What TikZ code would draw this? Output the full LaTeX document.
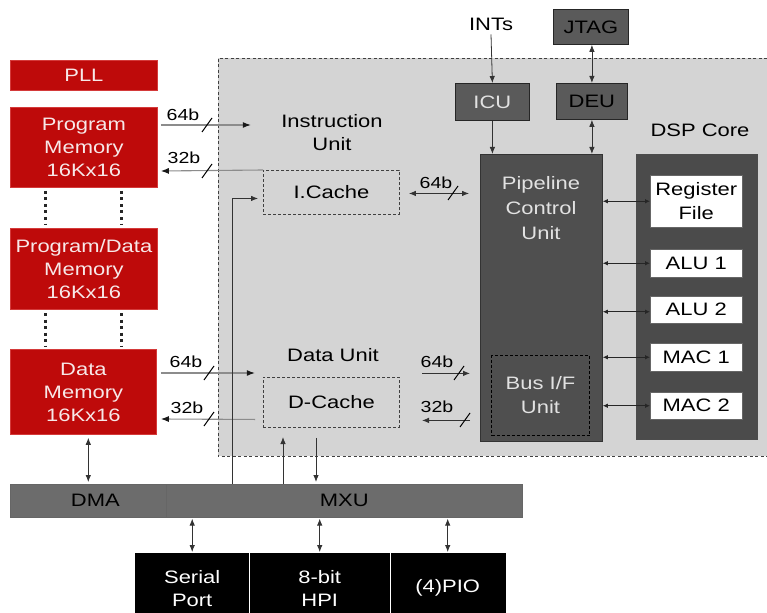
\documentclass[tikz,border=0pt]{standalone}
\usepackage{fontspec}
\setmainfont{Liberation Sans}[FakeStretch=1.22]
\usetikzlibrary{arrows.meta,calc}
\definecolor{memred}{HTML}{BE0A0A}
\definecolor{memredb}{HTML}{D43A3A}
\definecolor{memtxt}{HTML}{F7E8E8}
\definecolor{regiongray}{HTML}{D4D4D4}
\definecolor{pcugray}{HTML}{4F4F4F}
\definecolor{coregray}{HTML}{4B4B4B}
\definecolor{smallgray}{HTML}{5A5A5A}
\definecolor{bargray}{HTML}{6C6C6C}
\definecolor{lighttxt}{HTML}{E2E2E2}
\begin{document}
\begin{tikzpicture}[x=1pt,y=-1pt,
  txt/.style={font=\fontsize{18}{23}\selectfont, align=center, inner sep=0pt},
  small/.style={font=\fontsize{16}{18}\selectfont, inner sep=0pt},
  nw/.style={anchor=north west, inner sep=0pt, align=center},
  redbox/.style={nw, fill=memred, draw=memredb, line width=0.8pt, text=memtxt, font=\fontsize{18}{23}\selectfont},
  sbox/.style={nw, fill=smallgray, draw=black!85, line width=0.8pt, font=\fontsize{18}{23}\selectfont},
  wbox/.style={nw, fill=white, draw=black!60, line width=0.5pt, font=\fontsize{18}{24}\selectfont},
  dbox/.style={nw, draw=black!75, dash pattern=on 3pt off 2pt, line width=0.9pt, font=\fontsize{18}{23}\selectfont},
  blk/.style={nw, fill=black, draw=black, text=white, font=\fontsize{18}{23}\selectfont},
  barbox/.style={nw, fill=bargray, draw=black!60, line width=0.6pt, font=\fontsize{18}{23}\selectfont},
  arr/.style={draw=black!80, line width=0.8pt, -{Latex[length=7pt,width=5.5pt]}},
  dbl/.style={draw=black!80, line width=0.8pt, {Latex[length=7pt,width=5.5pt]}-{Latex[length=7pt,width=5.5pt]}},
  unitc/.style={draw=black!85, line width=0.8pt, {Latex[length=5pt,width=4.5pt]}-{Latex[length=5pt,width=4.5pt]}},
  garr/.style={draw=black!45, line width=1.1pt, -{Latex[length=8pt,width=6pt,color=black!90]}},
  slash/.style={draw=black, line width=1pt},
  memdots/.style={draw=black!85, line width=3pt, dash pattern=on 3pt off 3.5pt},
  regdash/.style={draw=black!75, line width=0.9pt, dash pattern=on 3pt off 2.5pt}
]
\useasboundingbox (0,0) rectangle (767,612);

% core region
\node[nw, fill=regiongray, minimum width=549pt, minimum height=398pt] (core) at (218,58) {};
\draw[regdash] (core.north east) -- (core.north west) -- (core.south west) -- (core.south east);

% memories
\node[redbox, minimum width=147pt, minimum height=30pt] (pll) at (10,60) {PLL};
\node[redbox, minimum width=147pt, minimum height=80pt] (pm) at (10,107) {Program\\Memory\\16Kx16};
\node[redbox, minimum width=147pt, minimum height=81pt] (pdm) at (10,228) {Program/Data\\Memory\\16Kx16};
\node[redbox, minimum width=146pt, minimum height=85pt] (dm) at (10,349) {Data\\Memory\\16Kx16};
\draw[memdots] (45,191) -- (45,224);
\draw[memdots] (121,191) -- (121,224);
\draw[memdots] (45,313) -- (45,346);
\draw[memdots] (121,313) -- (121,346);

% units in region
\node[txt] (iu) at (332,133) {Instruction\\Unit};
\node[txt] (du) at (333,355) {Data Unit};
\node[dbox, minimum width=136pt, minimum height=44pt] (icache) at (263,170) {I.Cache};
\node[dbox, minimum width=136pt, minimum height=50pt] (dcache) at (263,377) {D-Cache};

\node[nw, fill=pcugray, draw=black!80, line width=0.8pt, minimum width=122pt, minimum height=287pt] (pcu) at (480,154) {};
\node[txt, text=lighttxt, font=\fontsize{18}{25}\selectfont] (pcutxt) at (541,208) {Pipeline\\Control\\Unit};
\node[dbox, draw=black, line width=1pt, text=lighttxt, minimum width=98pt, minimum height=80pt, font=\fontsize{18}{24}\selectfont] (busif) at (491,355) {Bus I/F\\Unit};

\node[txt] (dsptitle) at (700,130) {DSP Core};
\node[nw, fill=coregray, draw=black!70, line width=0.6pt, minimum width=121pt, minimum height=285pt] (dsp) at (636,154) {};
\node[wbox, minimum width=92pt, minimum height=52pt] (rf) at (650,175) {Register\\File};
\node[wbox, minimum width=92pt, minimum height=28pt] (alu1) at (650,249) {ALU 1};
\node[wbox, minimum width=92pt, minimum height=27pt] (alu2) at (650,296) {ALU 2};
\node[wbox, minimum width=92pt, minimum height=28pt] (mac1) at (650,343) {MAC 1};
\node[wbox, minimum width=92pt, minimum height=27pt] (mac2) at (650,392) {MAC 2};

\node[sbox, text=lighttxt, minimum width=74pt, minimum height=37pt] (icu) at (455,83) {ICU};
\node[sbox, minimum width=71pt, minimum height=36pt] (deu) at (556,83) {DEU};
\node[sbox, minimum width=75pt, minimum height=35pt] (jtag) at (553,9) {JTAG};
\node[txt] (ints) at (491,24) {INTs};

% bus bar
\node[barbox, minimum width=156pt, minimum height=33pt] (dma) at (10,484) {\hspace*{14pt}DMA};
\node[barbox, minimum width=356pt, minimum height=33pt] (mxu) at (166,484) {MXU};

% peripherals
\node[blk, minimum width=114pt, minimum height=70pt] (serial) at (135,553) {Serial\\Port};
\node[blk, minimum width=141pt, minimum height=70pt] (hpi) at (249,553) {8-bit\\HPI};
\node[blk, minimum width=115pt, minimum height=70pt] (pio) at (390,553) {(4)PIO};
\draw[white, line width=0.8pt] (hpi.north west) -- (hpi.south west);
\draw[white, line width=0.8pt] (pio.north west) -- (pio.south west);

% left connectors
\draw[garr] ($(pm.north east)+(3,18)$) -- ++(90,0);
\node[small] at (183,115) {64b};
\draw[slash] (207,125) ++(-5,7) -- ++(10,-14);
\draw[garr] (icache.north west) -- ($(pm.north east)+(3,64)$);
\node[small] at (184,158) {32b};
\draw[slash] (207,171) ++(-5,7) -- ++(10,-14);

\draw[garr] ($(dm.north east)+(4,24)$) -- ++(94,0);
\node[small] at (186,362) {64b};
\draw[slash] (209,373) ++(-5,7) -- ++(10,-14);
\draw[garr] ($(dcache.west)+(-8,17)$) -- ($(dm.north east)+(4,70)$);
\node[small] at (187,408) {32b};
\draw[slash] (209,419) ++(-5,7) -- ++(10,-14);

% right connectors
\draw[dbl] ($(icache.east)+(9,1)$) -- ($(icache.east -| pcu.west)+(-11,1)$);
\node[small] at (436,183) {64b};
\draw[slash] (453,193) ++(-5,7) -- ++(10,-14);
\draw[arr] ($(pcu.west)+(-58,75.5)$) -- ++(48,0);
\node[small] at (437,362) {64b};
\draw[slash] (459,373) ++(-5,7) -- ++(10,-14);
\draw[arr] ($(pcu.west)+(-10,122.5)$) -- ++(-48,0);
\node[small] at (437,407) {32b};
\draw[slash] (465,420) ++(-5,7) -- ++(10,-14);

% top connectors
\draw[arr] ($(ints.south)+(0,4)$) -- (icu.north);
\draw[arr] (icu.south) -- (icu.south |- pcu.north);
\draw[dbl] (deu.north |- jtag.south) -- (deu.north);
\draw[dbl] (deu.south) -- (deu.south |- pcu.north);

% pcu to units
\draw[unitc] (rf.west -| pcu.east) -- (rf.west);
\draw[unitc] (alu1.west -| pcu.east) -- (alu1.west);
\draw[unitc] ($(alu2.west -| pcu.east)+(0,2)$) -- ($(alu2.west)+(0,2)$);
\draw[unitc] (mac1.west -| pcu.east) -- (mac1.west);
\draw[unitc] (mac2.west -| pcu.east) -- (mac2.west);

% bus connectors
\draw[arr] ($(mxu.north west)+(66,0)$) |- ($(icache.west)+(-5,6)$);
\draw[arr] ($(mxu.north west)+(117,0)$) -- ++(0,-47);
\draw[arr] ($(dcache.south west)+(53,10)$) -- ($(mxu.north west)+(150,-2)$);
\draw[dbl] ($(dma.north |- dm.south)+(0,3)$) -- ($(dma.north)+(0,-2)$);
\draw[dbl] ($(serial.north)+(0,-1)$) -- ($(serial.north |- mxu.south)+(0,1)$);
\draw[dbl] ($(hpi.north)+(0,-1)$) -- ($(hpi.north |- mxu.south)+(0,1)$);
\draw[dbl] ($(pio.north)+(0,-1)$) -- ($(pio.north |- mxu.south)+(0,1)$);
\end{tikzpicture}
\end{document}
